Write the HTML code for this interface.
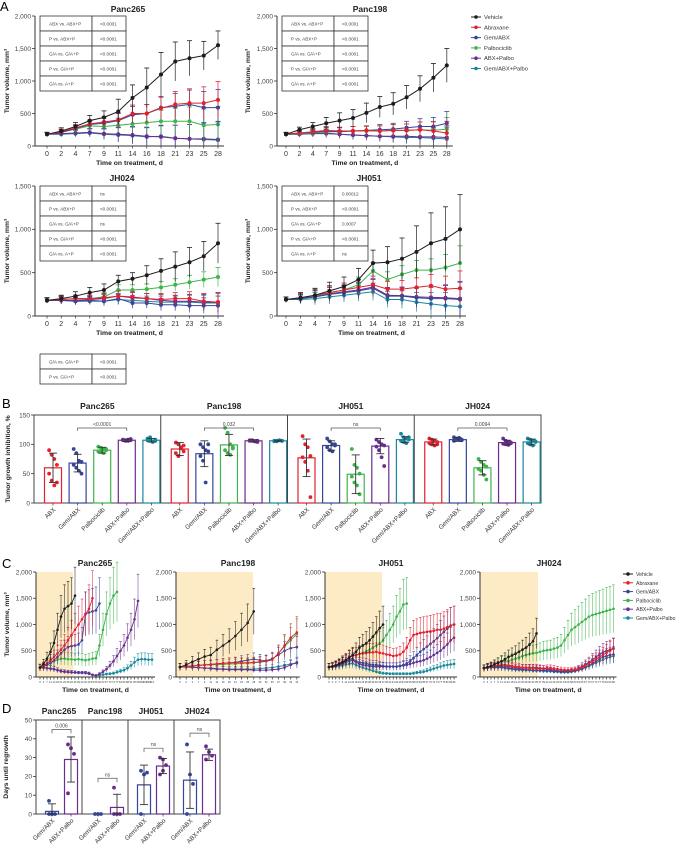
<!DOCTYPE html>
<html><head><meta charset="utf-8"><title>Figure</title>
<style>
html,body{margin:0;padding:0;background:#fff;}
svg{display:block;font-family:"Liberation Sans",Arial,sans-serif;}
</style></head>
<body>
<svg id="fig" width="676" height="850" viewBox="0 0 676 850" xmlns="http://www.w3.org/2000/svg">
<text x="0" y="11" font-size="13">A</text>
<text x="2" y="408" font-size="13">B</text>
<text x="2" y="568" font-size="13">C</text>
<text x="2" y="713" font-size="13">D</text>
</svg>
<script>
// ---------- Panel A data ----------
const aDays=['0','2','4','7','9','11','14','16','18','21','23','25','28'];
const aPanc265Veh=[180,230,300,390,440,530,740,900,1100,1300,1350,1390,1550];
const aPanc265VehErr=[30,50,60,80,100,190,200,300,340,300,270,220,220];
const aPanc265Abx=[180,220,280,340,370,400,500,500,580,640,660,660,710];
const aPanc265Gem=[180,210,270,330,350,390,480,500,590,610,640,590,590];
const aPanc265Pal=[180,210,260,310,300,320,340,360,380,380,380,320,330];
const aPanc265Ap=[180,190,200,210,190,180,170,150,140,120,110,110,100];
const aPanc265Gap=[180,180,190,200,180,170,160,140,150,120,110,100,90];
const aPanc265OtherErr=[30,40,50,60,80,110,130,140,170,200,220,250,280];

const aPanc198Veh=[180,250,300,350,390,430,510,600,650,750,880,1050,1240];
const aPanc198VehErr=[30,40,60,90,120,130,150,160,170,180,200,220,260];
const aPanc198Abx=[180,200,220,240,230,230,240,230,240,240,250,230,200];
const aPanc198Gem=[180,200,210,230,220,230,240,250,260,280,300,300,350];
const aPanc198Pal=[180,190,200,220,220,230,230,230,240,240,250,240,260];
const aPanc198Ap=[180,180,190,190,180,170,160,150,150,150,140,140,130];
const aPanc198Gap=[180,180,190,200,180,170,160,150,140,130,130,120,110];
const aPanc198OtherErr=[30,40,50,60,60,70,70,80,90,100,120,140,180];

const aJH024Veh=[180,200,230,270,300,400,430,470,520,570,620,690,840];
const aJH024VehErr=[30,40,50,60,70,70,70,110,140,170,170,170,230];
const aJH024Abx=[180,190,200,200,210,230,220,200,190,200,200,170,160];
const aJH024Gem=[180,180,170,180,170,200,150,150,130,130,120,120,120];
const aJH024Pal=[180,190,200,200,220,300,300,310,330,360,390,420,450];
const aJH024Ap=[180,180,180,190,200,230,210,200,180,170,170,160,160];
const aJH024Gap=[180,180,170,170,170,190,180,170,160,160,160,150,150];
const aJH024OtherErr=[30,40,40,40,50,60,60,60,70,70,80,90,110];

const aJH051Veh=[190,210,240,290,340,420,610,620,660,740,840,890,1000];
const aJH051VehErr=[30,60,80,100,110,130,150,180,240,300,350,370,400];
const aJH051Abx=[190,210,240,270,300,330,360,310,310,330,350,310,320];
const aJH051Gem=[190,200,220,250,270,290,320,230,230,210,200,200,190];
const aJH051Pal=[190,200,230,270,300,360,520,420,480,530,530,560,610];
const aJH051Ap=[190,200,225,255,280,300,335,240,235,220,215,210,200];
const aJH051Gap=[190,190,200,220,240,260,280,190,190,160,140,120,110];
const aJH051OtherErr=[30,50,70,80,80,90,100,90,100,110,130,150,200];

// ---------- Panel B data ----------
const bGroups=['ABX','Gem/ABX','Palbociclib','ABX+Palbo','Gem/ABX+Palbo'];
const bModels=['Panc265','Panc198','JH051','JH024'];
const bPanc265Mean=[60,68,90,107,107];
const bPanc265Sd=[25,15,5,2,3];
const bPanc265Pts=[[90,82,75,65,50,38,30,35],[92,85,72,70,65,60,55,50],[96,94,92,90,88,87,85,92],[108,107,106,109,107,106,108,107],[110,106,105,108,107,112,104,106]];
const bPanc198Mean=[92,84,99,106,106];
const bPanc198Sd=[11,22,18,2,1];
const bPanc198Pts=[[103,100,95,88,85,80,93,98],[100,95,90,88,80,72,35,100],[128,120,100,95,90,85,82,93],[107,106,105,104,106,107,105,106],[106,105,107,106,105,106,107,106]];
const bJH051Mean=[77,98,49,97,108];
const bJH051Sd=[32,8,33,13,5];
const bJH051Pts=[[114,100,95,80,78,70,55,10],[110,105,100,98,95,90,88,100],[92,65,60,50,45,35,30,15],[108,104,100,98,96,90,78,63],[118,112,110,108,106,104,102,112]];
const bJH024Mean=[104,108,60,103,104];
const bJH024Sd=[5,3,12,4,5];
const bJH024Pts=[[110,108,106,104,102,100,98,100],[112,110,108,107,106,109,111,108],[75,70,65,62,58,55,48,40],[110,106,104,103,101,100,99,102],[110,108,106,104,102,100,98,105]];
const bSig=[['<0.0001',1,3],['0.032',1,3],['ns',1,3],['0.0094',1,3]];

// ---------- Panel C data ----------
const cPanc265Days=['0','4','7','11','14','18','21','25','28','32','35','39','42','46','49','53','56','60','63','67','70','74','77','81','84','88','91','95','98','102','105','109','112'];
const cPanc265Veh=[180,250,350,480,650,900,1150,1300,1350,1400,1550];
const cPanc265Abx=[180,210,260,320,380,450,520,600,700,800,900,1000,1100,1200,1300,1500];
const cPanc265Gem=[180,200,230,270,320,380,450,520,570,590,600,620,700,1200,1230,1250,1270,1400];
const cPanc265Pal=[180,200,230,260,300,330,350,350,340,340,330,340,330,320,330,350,360,600,900,1200,1400,1550,1620];
const cPanc265Ap=[180,180,170,160,150,130,110,100,95,90,85,80,80,80,70,40,30,60,100,150,220,300,400,500,600,750,900,1100,1450];
const cPanc265Gap=[180,175,170,160,150,130,110,100,95,90,85,80,80,75,60,40,30,35,45,55,60,70,90,110,130,170,220,280,330,340,340,330,330];

const cPanc198Days=['0','2','4','7','9','11','14','16','18','21','23','25','28','30','32','35','37','39','42','44'];
const cPanc198Veh=[190,230,290,340,390,420,520,600,680,780,900,1030,1250];
const cPanc198Abx=[190,200,210,220,230,240,250,260,270,270,270,270,280,290,300,330,450,600,750,850];
const cPanc198Gem=[190,200,210,220,230,240,250,260,270,280,300,320,340,320,310,350,420,500,550,570];
const cPanc198Pal=[190,200,210,220,230,230,240,240,250,250,260,260,270,280,300,330,450,580,700,820];
const cPanc198Ap=[190,190,190,180,170,160,150,150,140,140,140,140,130,130,130,140,150,180,230,280];
const cPanc198Gap=[190,190,180,180,170,170,160,150,150,150,150,150,150,160,170,180,200,220,250,260];

const cJH051Days=['0','2','4','7','9','11','14','16','18','21','23','25','28','30','32','35','37','39','42','44','46','49','51','53','56','58','60','63','65','67','70','72','74','77','79','81','84','86'];
const cJH051Veh=[190,200,220,250,280,320,370,420,480,560,600,640,700,770,850,930,1000];
const cJH051Abx=[190,210,230,260,300,330,380,400,420,440,450,460,470,470,480,460,450,430,420,400,410,430,480,560,700,800,820,840,850,860,870,880,900,900,920,950,980,1000];
const cJH051Gem=[190,200,220,240,270,300,330,350,300,280,270,260,240,230,230,220,210,200,200,200,200,210,230,260,300,360,420,480,530,580,630,680,740,800,860,920,980,1000];
const cJH051Pal=[190,200,220,250,290,330,380,400,420,440,460,490,520,560,600,640,700,800,900,1000,1150,1250,1380,1400];
const cJH051Ap=[190,200,210,230,250,280,300,320,280,250,230,220,210,200,200,200,200,200,200,200,200,210,220,230,250,270,290,300,320,350,380,420,460,500,560,620,700,750];
const cJH051Gap=[190,190,200,210,220,240,250,260,230,200,180,160,140,120,100,80,70,65,60,60,60,60,60,60,60,70,80,90,100,120,140,160,180,200,220,230,240,250];

const cJH024Days=['0','2','4','7','9','11','14','16','18','21','23','25','28','30','32','35','37','39','42','44','46','49','51','53','56','58','60','63','65','67','70','72','74','77','79','81','84','86'];
const cJH024Veh=[170,190,210,240,270,300,340,380,410,440,480,520,560,620,680,830];
const cJH024Abx=[170,190,200,210,220,230,230,220,210,200,190,180,180,170,170,160,160,160,170,170,160,150,140,130,130,130,140,150,180,220,260,300,340,380,420,460,500,540];
const cJH024Gem=[170,180,190,190,190,190,180,170,160,150,150,140,140,140,130,130,130,130,120,120,110,110,100,100,100,110,120,140,160,190,220,260,300,340,380,400,420,430];
const cJH024Pal=[170,190,210,240,270,290,300,310,330,350,370,400,420,440,450,460,480,500,510,520,540,560,600,700,800,900,950,1000,1050,1100,1150,1180,1200,1220,1240,1260,1280,1300];
const cJH024Ap=[170,180,190,200,210,210,210,200,190,180,170,170,170,180,180,180,170,160,150,140,130,120,110,110,110,120,140,160,200,240,280,330,380,430,470,500,520,550];
const cJH024Gap=[170,175,180,180,180,180,170,160,150,140,140,130,130,130,120,120,120,110,110,110,100,100,90,90,90,100,110,130,150,180,210,240,270,300,330,360,380,400];

// ---------- Panel D data ----------
const dModels=['Panc265','Panc198','JH051','JH024'];
const dGroups=['Gem/ABX','ABX+Palbo'];
const dGemMean=[1.4,0,15.5,18];
const dGemSd=[4,0,10.5,15];
const dGemPts=[[7,0,0,0,0],[0,0,0],[23,21,22,0],[37,21,16,0]];
const dApMean=[29,3.5,25.5,31.5];
const dApSd=[12,7,4,3];
const dApPts=[[37,35,32,11],[14,0,0,0],[30,29,26,21,23],[36,33,31,29]];
const dSig=[['0.006',45],['ns',19],['ns',35],['ns',43]];

const seriesNames=['Vehicle','Abraxane','Gem/ABX','Palbociclib','ABX+Palbo','Gem/ABX+Palbo'];
const COL=['#1c1c1c','#e2202e','#34459b','#3cb44b','#6b2c8f','#16889c'];

const NS='http://www.w3.org/2000/svg';
const svg=document.getElementById('fig');
function mk(tag,attrs,name,parent){
  const el=document.createElementNS(NS,tag);
  for(const k in attrs) el.setAttribute(k,attrs[k]);
  
  
  (parent||svg).appendChild(el);
  return el;
}
function txt(x,y,s,size,name,extra){
  const a=Object.assign({x:x,y:y,'font-size':size,fill:'#222'},extra||{});
  const t=mk('text',a,name);
  t.textContent=s;
  return t;
}
function fmt(v){return v>=1000?(Math.floor(v/1000)+','+String(v%1000).padStart(3,'0')):String(v);}

function lineChart(o){
  const g=mk('g',{},o.name+'-chart');
  const sy=v=>o.y0-v/o.ymax*(o.y0-o.yTop);
  const sx=i=>o.x0+i*o.dx;
  const xEnd=sx(o.labels.length-1)+o.pad;
  if(o.shade){mk('rect',{x:o.axisX,y:o.yTop,width:o.shade-o.axisX,height:o.y0-o.yTop,fill:'#fcebc4'},o.name+'-treatment-shading',g);}
  mk('line',{x1:o.axisX,y1:o.yTop,x2:o.axisX,y2:o.y0,stroke:'#333','stroke-width':1},o.name+'-y-axis',g);
  mk('line',{x1:o.axisX,y1:o.y0,x2:xEnd,y2:o.y0,stroke:'#333','stroke-width':1},o.name+'-x-axis',g);
  for(let v=0;v<=o.ymax;v+=o.ystep){
    mk('line',{x1:o.axisX-3,y1:sy(v),x2:o.axisX,y2:sy(v),stroke:'#333','stroke-width':0.8},o.name+'-y-tick',g);
    txt(o.axisX-4,sy(v)+2.3,fmt(v),6.5,o.name+'-y-tick-label',{'text-anchor':'end',fill:'#444'});
  }
  o.labels.forEach((l,i)=>{
    mk('line',{x1:sx(i),y1:o.y0,x2:sx(i),y2:o.y0+2.5,stroke:'#333','stroke-width':0.7},o.name+'-x-tick',g);
    txt(sx(i),o.y0+o.tickDy,l,o.tickFont,o.name+'-x-tick-label',{'text-anchor':'middle',fill:'#333'});
  });
  txt((o.axisX+xEnd)/2,o.y0+o.labDy,'Time on treatment, d',o.labFont,o.name+'-x-axis-title',{'text-anchor':'middle','font-weight':'bold'});
  txt(o.titleX,o.titleY,o.title,o.titleFont,o.name+'-title',{'text-anchor':'middle','font-weight':'bold'});
  const ty=(o.yTop+o.y0)/2;
  const yl=txt(o.yLabX,ty,'Tumor volume, mm³',o.labFont,o.name+'-y-axis-title',{'text-anchor':'middle','font-weight':'bold',transform:'rotate(-90 '+o.yLabX+' '+ty+')'});
  const order=[5,4,3,2,1,0];
  order.forEach(si=>{
    const vals=o.series[si]; if(!vals) return;
    const errs=o.errs[si];
    const c=COL[si];
    vals.forEach((v,i)=>{
      const e=errs?errs[Math.min(i,errs.length-1)]:v*o.errFrac;
      mk('line',{x1:sx(i),y1:sy(v+e),x2:sx(i),y2:sy(Math.max(0,v-e)),stroke:c,'stroke-width':o.ew,opacity:0.85},o.name+'-error-bar',g);
      mk('line',{x1:sx(i)-o.cap,y1:sy(v+e),x2:sx(i)+o.cap,y2:sy(v+e),stroke:c,'stroke-width':o.ew},o.name+'-error-cap',g);
    });
    const pts=vals.map((v,i)=>sx(i)+','+sy(v)).join(' ');
    mk('polyline',{points:pts,fill:'none',stroke:c,'stroke-width':o.lw},o.name+'-line-'+seriesNames[si].toLowerCase().replace(/[^a-z]/g,''),g);
    vals.forEach((v,i)=>{
      mk('circle',{cx:sx(i),cy:sy(v),r:o.mr,fill:c},o.name+'-point',g);
    });
  });
}
function statTable(x,y,rows,name){
  const w1=52,w2=34,h=15;
  rows.forEach((r,i)=>{
    mk('rect',{x:x,y:y+i*h,width:w1,height:h,fill:'#fff',stroke:'#333','stroke-width':0.8},name+'-cell',null);
    mk('rect',{x:x+w1,y:y+i*h,width:w2,height:h,fill:'#fff',stroke:'#333','stroke-width':0.8},name+'-cell',null);
    txt(x+9,y+i*h+9.5,r[0],4.6,name+'-comparison',{fill:'#444'});
    txt(x+w1+8,y+i*h+9.5,r[1],4.6,name+'-p-value',{fill:'#444'});
  });
}
function legend(x,y,dy,fs,name){
  seriesNames.forEach((s,i)=>{
    mk('line',{x1:x-5,y1:y+i*dy,x2:x+5,y2:y+i*dy,stroke:COL[i],'stroke-width':1},name+'-line',null);
    mk('circle',{cx:x,cy:y+i*dy,r:1.8,fill:COL[i]},name+'-marker',null);
    txt(x+8,y+i*dy+2,s,fs,name+'-entry',{fill:'#333'});
  });
}

// ----- Panel A -----
const aBase={ymax:2000,ystep:500,tickFont:7,tickDy:10,labFont:6.8,labDy:19,titleFont:8.5,lw:1,mr:2,ew:0.8,cap:2.5,pad:6,errFrac:0.2};
lineChart(Object.assign({},aBase,{name:'a-panc265',title:'Panc265',titleX:128,titleY:12,axisX:35,x0:47,dx:14.25,yTop:16,y0:146,labels:aDays,yLabX:9,
  series:[aPanc265Veh,aPanc265Abx,aPanc265Gem,aPanc265Pal,aPanc265Ap,aPanc265Gap],errs:[aPanc265VehErr,aPanc265OtherErr,aPanc265OtherErr,aPanc265OtherErr,aPanc265OtherErr,aPanc265OtherErr]}));
lineChart(Object.assign({},aBase,{name:'a-panc198',title:'Panc198',titleX:370,titleY:12,axisX:277,x0:286,dx:13.4,yTop:16,y0:146,labels:aDays,yLabX:250,
  series:[aPanc198Veh,aPanc198Abx,aPanc198Gem,aPanc198Pal,aPanc198Ap,aPanc198Gap],errs:[aPanc198VehErr,aPanc198OtherErr,aPanc198OtherErr,aPanc198OtherErr,aPanc198OtherErr,aPanc198OtherErr]}));
lineChart(Object.assign({},aBase,{name:'a-jh024',ymax:1500,title:'JH024',titleX:122,titleY:181,axisX:35,x0:47,dx:14.25,yTop:186,y0:316,labels:aDays,yLabX:9,
  series:[aJH024Veh,aJH024Abx,aJH024Gem,aJH024Pal,aJH024Ap,aJH024Gap],errs:[aJH024VehErr,aJH024OtherErr,aJH024OtherErr,aJH024OtherErr,aJH024OtherErr,aJH024OtherErr]}));
lineChart(Object.assign({},aBase,{name:'a-jh051',ymax:1500,title:'JH051',titleX:369,titleY:181,axisX:277,x0:286,dx:14.5,yTop:186,y0:316,labels:aDays,yLabX:250,
  series:[aJH051Veh,aJH051Abx,aJH051Gem,aJH051Pal,aJH051Ap,aJH051Gap],errs:[aJH051VehErr,aJH051OtherErr,aJH051OtherErr,aJH051OtherErr,aJH051OtherErr,aJH051OtherErr]}));
statTable(40,16,[['ABX vs. ABX+P','<0.0001'],['P vs. ABX+P','<0.0001'],['G/A vs. G/A+P','<0.0001'],['P vs. G/A+P','<0.0001'],['G/A vs. A+P','<0.0001']],'a-panc265-stats');
statTable(282,16,[['ABX vs. ABX+P','<0.0001'],['P vs. ABX+P','<0.0001'],['G/A vs. G/A+P','<0.0001'],['P vs. G/A+P','<0.0001'],['G/A vs. A+P','<0.0001']],'a-panc198-stats');
statTable(40,186,[['ABX vs. ABX+P','ns'],['P vs. ABX+P','<0.0001'],['G/A vs. G/A+P','ns'],['P vs. G/A+P','<0.0001'],['G/A vs. A+P','<0.0001']],'a-jh024-stats');
statTable(282,186,[['ABX vs. ABX+P','0.00012'],['P vs. ABX+P','<0.0001'],['G/A vs. G/A+P','0.0007'],['P vs. G/A+P','<0.0001'],['G/A vs. A+P','ns']],'a-jh051-stats');
statTable(40,354,[['G/A vs. G/A+P','<0.0001'],['P vs. G/A+P','<0.0001']],'a-extra-stats');
legend(476,17,10.3,5.8,'a-legend');

// ----- Panel B -----
(function(){
  const g=mk('g',{},'b-chart');
  const left=34,right=541,top=415,y0=503,ymax=150;
  const sy=v=>y0-v/ymax*(y0-top);
  const secW=(right-left)/4;
  mk('rect',{x:left,y:top,width:right-left,height:y0-top,fill:'none',stroke:'#444','stroke-width':1},'b-frame',g);
  for(let v=0;v<=150;v+=50){
    mk('line',{x1:left-3,y1:sy(v),x2:left,y2:sy(v),stroke:'#333','stroke-width':0.8},'b-y-tick',g);
    txt(left-4,sy(v)+2.3,String(v),6.5,'b-y-tick-label',{'text-anchor':'end',fill:'#444'});
  }
  txt(10,459,'Tumor growth inhibition, %',6.8,'b-y-axis-title',{'text-anchor':'middle','font-weight':'bold',transform:'rotate(-90 10 459)'});
  const means=[bPanc265Mean,bPanc198Mean,bJH051Mean,bJH024Mean];
  const sds=[bPanc265Sd,bPanc198Sd,bJH051Sd,bJH024Sd];
  const pts=[bPanc265Pts,bPanc198Pts,bJH051Pts,bJH024Pts];
  const bc=[COL[1],COL[2],COL[3],COL[4],COL[5]];
  bModels.forEach((m,mi)=>{
    const s0=left+mi*secW;
    if(mi>0) mk('line',{x1:s0,y1:top,x2:s0,y2:y0,stroke:'#444','stroke-width':1},'b-divider',g);
    txt(s0+secW/2,409,m,8.5,'b-title',{'text-anchor':'middle','font-weight':'bold'});
    const cx=i=>s0+19+i*24.6;
    bGroups.forEach((gr,i)=>{
      const c=bc[i],mv=means[mi][i],sd=sds[mi][i];
      mk('rect',{x:cx(i)-8.5,y:sy(mv),width:17,height:y0-sy(mv),fill:'#fff',stroke:c,'stroke-width':1.2},'b-bar',g);
      pts[mi][i].forEach((p,k)=>{
        mk('circle',{cx:cx(i)+((k%4)-1.5)*2.6,cy:sy(p),r:1.9,fill:c},'b-dot',g);
      });
      mk('line',{x1:cx(i),y1:sy(mv+sd),x2:cx(i),y2:sy(Math.max(0,mv-sd)),stroke:'#333','stroke-width':0.9},'b-error-bar',g);
      mk('line',{x1:cx(i)-4,y1:sy(mv+sd),x2:cx(i)+4,y2:sy(mv+sd),stroke:'#333','stroke-width':0.9},'b-error-cap',g);
      mk('line',{x1:cx(i)-4,y1:sy(Math.max(0,mv-sd)),x2:cx(i)+4,y2:sy(Math.max(0,mv-sd)),stroke:'#333','stroke-width':0.9},'b-error-cap',g);
      mk('line',{x1:cx(i),y1:y0,x2:cx(i),y2:y0+2.5,stroke:'#333','stroke-width':0.7},'b-x-tick',g);
      const lx=cx(i)+3,ly=y0+7;
      txt(lx,ly,gr,6.3,'b-x-tick-label',{'text-anchor':'end',fill:'#333',transform:'rotate(-45 '+lx+' '+ly+')'});
    });
    const sg=bSig[mi];const x1=cx(sg[1]),x2=cx(sg[2]),by=428;
    mk('path',{d:'M'+x1+' '+(by+3)+'V'+by+'H'+x2+'V'+(by+3),fill:'none',stroke:'#555','stroke-width':0.7},'b-significance-bracket',g);
    txt((x1+x2)/2,by-2,sg[0],5,'b-significance-label',{'text-anchor':'middle',fill:'#444'});
  });
})();

// ----- Panel C -----
const cBase={ymax:2000,ystep:500,tickFont:2.6,tickDy:6,labFont:6.8,labDy:15,titleFont:8.5,lw:0.9,mr:1.3,ew:0.6,cap:1.3,pad:3,errFrac:0.35,yTop:572,y0:677,titleY:566};
lineChart(Object.assign({},cBase,{name:'c-panc265',title:'Panc265',titleX:95,axisX:36,x0:40,dx:3.5,shade:73,labels:cPanc265Days,yLabX:9,
  series:[cPanc265Veh,cPanc265Abx,cPanc265Gem,cPanc265Pal,cPanc265Ap,cPanc265Gap],errs:[null,null,null,null,null,null]}));
lineChart(Object.assign({},cBase,{name:'c-panc198',title:'Panc198',titleX:238,axisX:176,x0:180,dx:6.15,shade:253,labels:cPanc198Days,yLabX:-50,
  series:[cPanc198Veh,cPanc198Abx,cPanc198Gem,cPanc198Pal,cPanc198Ap,cPanc198Gap],errs:[null,null,null,null,null,null]}));
lineChart(Object.assign({},cBase,{name:'c-jh051',title:'JH051',titleX:391,axisX:325,x0:329,dx:3.38,shade:382,labels:cJH051Days,yLabX:-50,
  series:[cJH051Veh,cJH051Abx,cJH051Gem,cJH051Pal,cJH051Ap,cJH051Gap],errs:[null,null,null,null,null,null]}));
lineChart(Object.assign({},cBase,{name:'c-jh024',title:'JH024',titleX:549,axisX:480,x0:484,dx:3.5,shade:538,labels:cJH024Days,yLabX:-50,
  series:[cJH024Veh,cJH024Abx,cJH024Gem,cJH024Pal,cJH024Ap,cJH024Gap],errs:[null,null,null,null,null,null]}));
legend(628,574,8.8,5.2,'c-legend');

// ----- Panel D -----
(function(){
  const g=mk('g',{},'d-chart');
  const left=36,right=220,top=720,y0=814,ymax=50;
  const sy=v=>y0-v/ymax*(y0-top);
  const secW=(right-left)/4;
  mk('rect',{x:left,y:top,width:right-left,height:y0-top,fill:'none',stroke:'#444','stroke-width':1},'d-frame',g);
  for(let v=0;v<=50;v+=10){
    mk('line',{x1:left-3,y1:sy(v),x2:left,y2:sy(v),stroke:'#333','stroke-width':0.8},'d-y-tick',g);
    txt(left-4,sy(v)+2.3,String(v),6.5,'d-y-tick-label',{'text-anchor':'end',fill:'#444'});
  }
  txt(8,767,'Days until regrowth',6.8,'d-y-axis-title',{'text-anchor':'middle','font-weight':'bold',transform:'rotate(-90 8 767)'});
  const means=[dGemMean,dApMean],sds=[dGemSd,dApSd],pts=[dGemPts,dApPts],bc=[COL[2],COL[4]];
  dModels.forEach((m,mi)=>{
    const s0=left+mi*secW;
    if(mi>0) mk('line',{x1:s0,y1:top,x2:s0,y2:y0,stroke:'#444','stroke-width':1},'d-divider',g);
    txt(s0+secW/2,714,m,8.5,'d-title',{'text-anchor':'middle','font-weight':'bold'});
    const cx=i=>s0+16+i*19;
    dGroups.forEach((gr,i)=>{
      const c=bc[i],mv=means[i][mi],sd=sds[i][mi];
      mk('rect',{x:cx(i)-6.5,y:sy(mv),width:13,height:y0-sy(mv),fill:'#fff',stroke:c,'stroke-width':1.2},'d-bar',g);
      pts[i][mi].forEach((p,k)=>{
        mk('circle',{cx:cx(i)+((k%3)-1)*3,cy:sy(p),r:1.9,fill:c},'d-dot',g);
      });
      if(sd>0){
        mk('line',{x1:cx(i),y1:sy(mv+sd),x2:cx(i),y2:sy(Math.max(0,mv-sd)),stroke:'#333','stroke-width':0.9},'d-error-bar',g);
        mk('line',{x1:cx(i)-4,y1:sy(mv+sd),x2:cx(i)+4,y2:sy(mv+sd),stroke:'#333','stroke-width':0.9},'d-error-cap',g);
        mk('line',{x1:cx(i)-4,y1:sy(Math.max(0,mv-sd)),x2:cx(i)+4,y2:sy(Math.max(0,mv-sd)),stroke:'#333','stroke-width':0.9},'d-error-cap',g);
      }
      mk('line',{x1:cx(i),y1:y0,x2:cx(i),y2:y0+2.5,stroke:'#333','stroke-width':0.7},'d-x-tick',g);
      const lx=cx(i)+3,ly=y0+7;
      txt(lx,ly,gr,6.3,'d-x-tick-label',{'text-anchor':'end',fill:'#333',transform:'rotate(-45 '+lx+' '+ly+')'});
    });
    const sg=dSig[mi],by=sy(sg[1]),x1=cx(0),x2=cx(1);
    mk('path',{d:'M'+x1+' '+(by+4)+'V'+by+'H'+x2+'V'+(by+4),fill:'none',stroke:'#555','stroke-width':0.7},'d-significance-bracket',g);
    txt((x1+x2)/2,by-2,sg[0],5,'d-significance-label',{'text-anchor':'middle',fill:'#444'});
  });
})();
</script>
</body></html>
